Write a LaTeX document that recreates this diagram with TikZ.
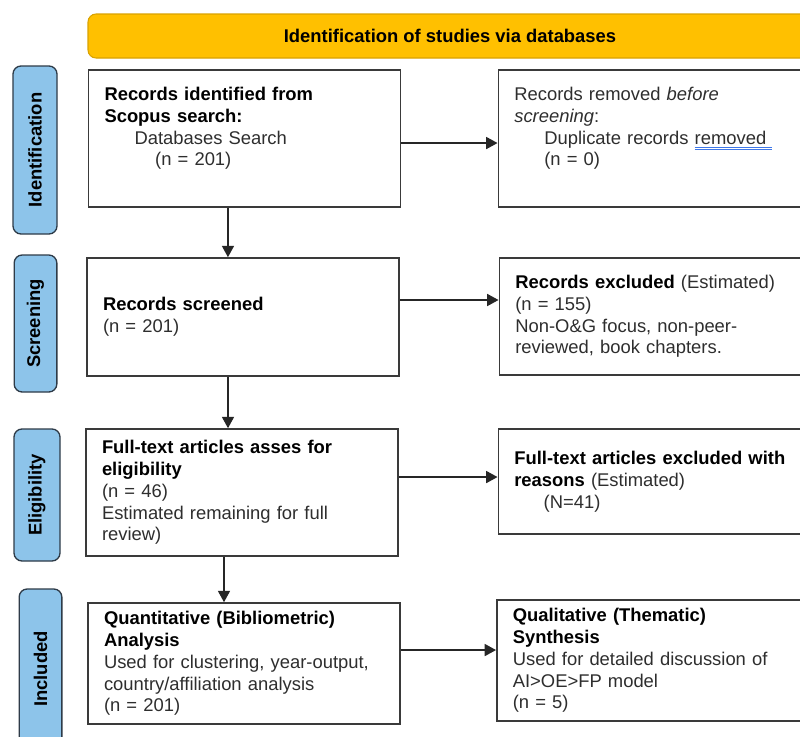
\documentclass[tikz,border=0pt]{standalone}
\usepackage{fontspec}
\setmainfont{Liberation Sans}
\usepackage{tikz}
\usetikzlibrary{arrows.meta, calc}

\definecolor{headgold}{HTML}{FFC000}
\definecolor{headedge}{HTML}{D9A200}
\definecolor{phaseblue}{HTML}{8DC4EA}
\definecolor{phaseedge}{HTML}{2E3B48}
\definecolor{boxedge}{HTML}{3A3A3A}
\definecolor{bodytext}{HTML}{2E2E2E}
\definecolor{spellblue}{HTML}{3F78E8}

% double blue underline as in the reference
\newcommand{\spellmark}[1]{\setbox0\hbox{#1\ }%
  \rlap{\textcolor{spellblue}{\rule[-2.6pt]{\wd0}{0.7pt}}}%
  \rlap{\textcolor{spellblue}{\rule[-4.4pt]{\wd0}{0.7pt}}}#1}

\begin{document}
\begin{tikzpicture}[
    x=0.75pt, y=-0.75pt,
    font=\fontsize{13.8}{16.3}\selectfont,
    header/.style={draw=headedge, fill=headgold, rounded corners=6pt, line width=0.8pt,
      minimum width=543pt, minimum height=33pt, font=\fontsize{13.8}{16.3}\selectfont\bfseries},
    phase/.style={draw=phaseedge, fill=phaseblue, rounded corners=6pt, line width=1pt, rotate=90,
      font=\fontsize{13.8}{16.3}\selectfont\bfseries},
    stagebox/.style={draw=boxedge, line width=1.2pt, align=left, inner xsep=12pt,
      text=bodytext, text width=210pt},
    sidebox/.style={stagebox, text width=223pt},
    arrow/.style={-{Triangle[length=8.5pt, width=9pt]}, line width=1.1pt, draw=black!85}
]
\useasboundingbox (0,0) rectangle (800,736);
\clip (0,0) rectangle (800,736);
\fill[white] (0,0) rectangle (800,736);

% Header
\node[header] (head) at (450,36) {Identification of studies via databases};

% Phase labels
\node[phase, minimum width=126pt, minimum height=33pt] (ident) at (35,150) {Identification};
\node[phase, minimum width=102.75pt, minimum height=32pt] (screen) at (35.5,323.5) {Screening};
\node[phase, minimum width=99pt, minimum height=34.5pt] (elig) at (37,495) {Eligibility};
\node[phase, minimum width=120pt, minimum height=32pt] (incl) at (40.5,669) {Included};

% Identification row
\node[stagebox, minimum height=102.75pt] (found) at (244.5,138.5)
  {\textbf{\color{black}Records identified from}\\
   \textbf{\color{black}Scopus search:}\\
   \hspace*{22.5pt}Databases Search\\
   \hspace*{38pt}(n = 201)\par\rule{0pt}{14pt}};
\node[sidebox, minimum height=102.75pt] (removed) at (663,138.5)
  {Records removed \textit{before}\\
   \textit{screening}:\\
   \hspace*{22.5pt}Duplicate records \spellmark{removed}\\
   \hspace*{22.5pt}(n = 0)\par\rule{0pt}{14pt}};

% Screening row
\node[stagebox, minimum height=88.5pt] (screened) at (243,317)
  {\textbf{\color{black}Records screened}\\
   (n = 201)};
\node[sidebox, minimum height=87.75pt] (excluded) at (664,316.5)
  {\textbf{\color{black}Records excluded} (Estimated)\\
   (n = 155)\\
   Non-O\&G focus, non-peer-\\
   reviewed, book chapters.};

% Eligibility row
\node[stagebox, minimum height=95.25pt] (fulltext) at (242,492.5)
  {\textbf{\color{black}Full-text articles asses for}\\
   \textbf{\color{black}eligibility}\\
   (n = 46)\\
   Estimated remaining for full\\
   review)};
\node[sidebox, minimum height=78.75pt] (reasons) at (663,481.5)
  {\textbf{\color{black}Full-text articles excluded with}\\
   \textbf{\color{black}reasons} (Estimated)\\
   \hspace*{22pt}(N=41)};

% Included row
\node[stagebox, minimum height=90.75pt] (quant) at (244,663.5)
  {\textbf{\color{black}Quantitative (Bibliometric)}\\
   \textbf{\color{black}Analysis}\\
   Used for clustering, year-output,\\
   country/affiliation analysis\\
   (n = 201)};
\node[sidebox, minimum height=90.75pt] (qual) at (661.5,660.5)
  {\textbf{\color{black}Qualitative (Thematic)}\\
   \textbf{\color{black}Synthesis}\\
   Used for detailed discussion of\\
   AI>OE>FP model\\
   (n = 5)};

% Connections
\draw[arrow] ([xshift=-12.4pt]found.south) -- ([xshift=-12.4pt]found.south |- screened.north);
\draw[arrow] ([xshift=-11.25pt]screened.south) -- ([xshift=-11.25pt]screened.south |- fulltext.north);
\draw[arrow] ([xshift=-13.5pt]fulltext.south) -- ([xshift=-13.5pt]fulltext.south |- quant.north);
\draw[arrow] ([yshift=-3.4pt]found.east) -- ([yshift=-3.4pt]found.east -| removed.west);
\draw[arrow] ([yshift=12.75pt]screened.east) -- ([yshift=12.75pt]screened.east -| excluded.west);
\draw[arrow] ([yshift=11.6pt]fulltext.east) -- ([yshift=11.6pt]fulltext.east -| reasons.west);
\draw[arrow] ([yshift=10.1pt]quant.east) -- ([yshift=10.1pt]quant.east -| qual.west);

\end{tikzpicture}
\end{document}
